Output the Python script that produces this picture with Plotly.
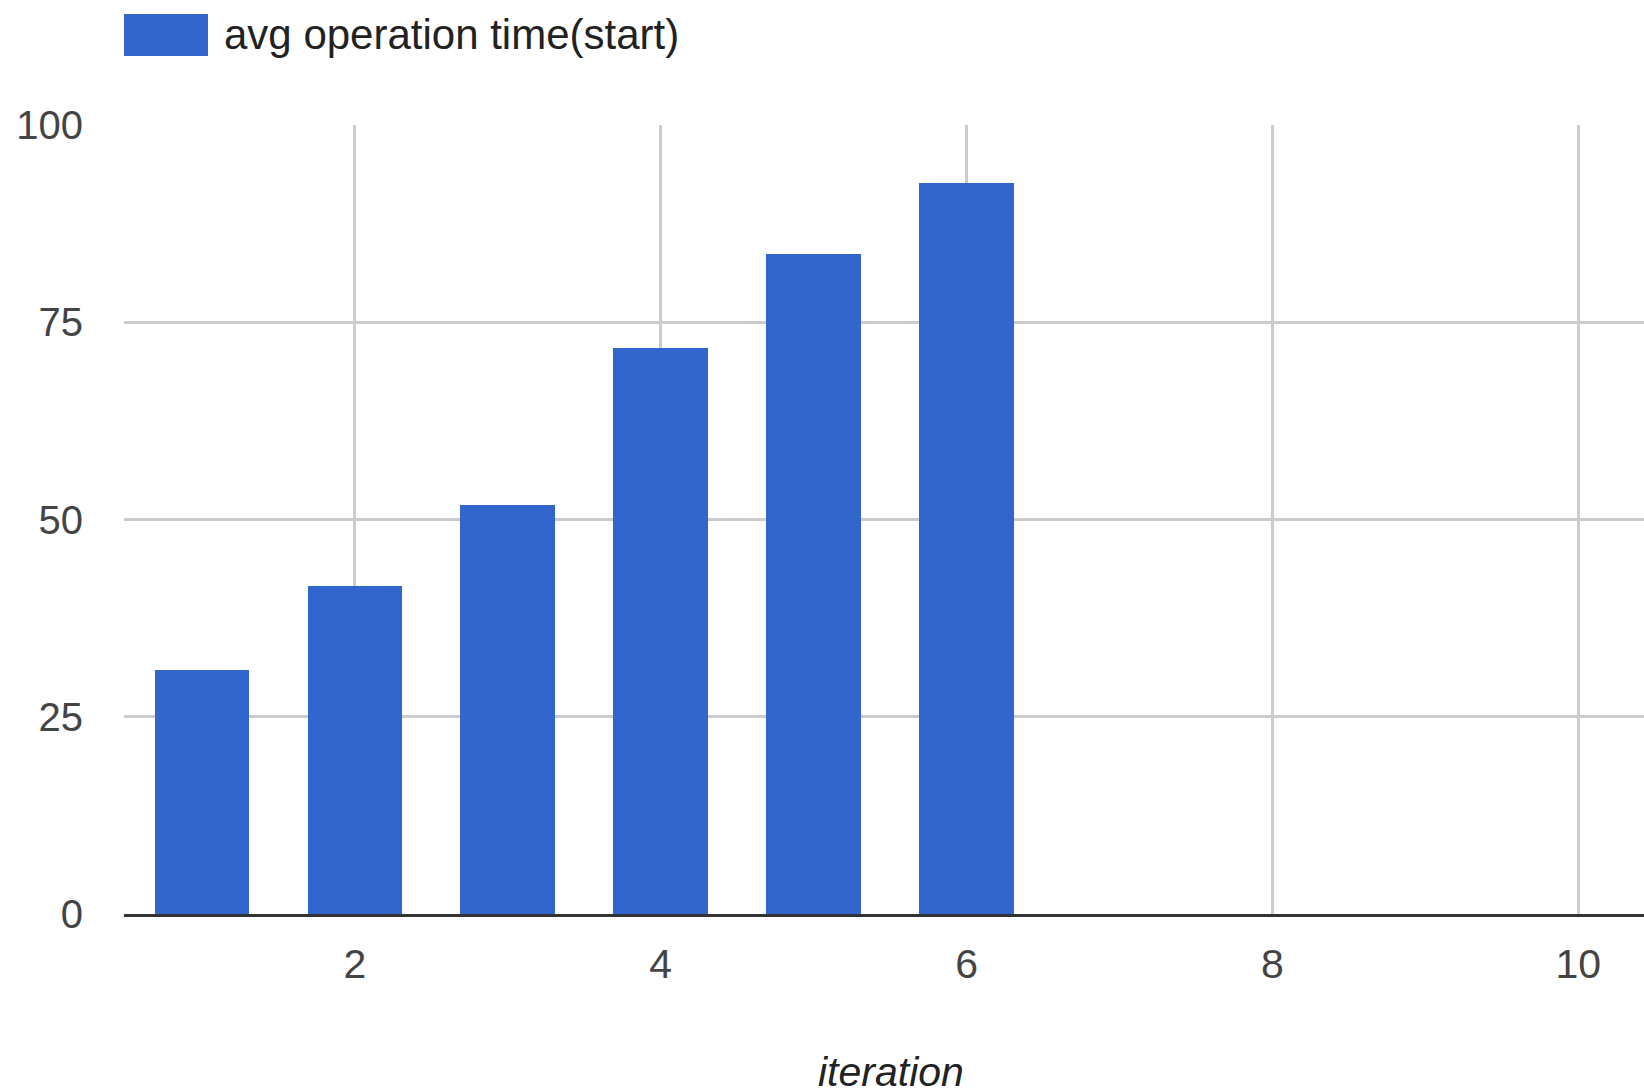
import plotly.graph_objects as go

# Average operation time per iteration
iterations = [1, 2, 3, 4, 5, 6]
avg_start_time = [30.9, 41.6, 51.8, 71.8, 83.7, 92.7]
series_name = "avg operation time(start)"
x_ticks = [2, 4, 6, 8, 10]
y_ticks = [0, 25, 50, 75, 100]

BAR_COLOR = "#3366cc"
GRID_COLOR = "#cccccc"
FONT = "Liberation Sans, Arial, sans-serif"

W, H = 1644, 1090
L, R, T, B = 124, 0, 125, 176
plot_w = W - L - R
plot_h = H - T - B


def px_to_paper_x(px):
    return (px - L) / plot_w


def px_to_paper_y(py):
    return (H - B - py) / plot_h


fig = go.Figure()
fig.add_trace(go.Bar(
    x=iterations,
    y=avg_start_time,
    name=series_name,
    width=0.62,
    marker=dict(color=BAR_COLOR, line=dict(width=0)),
    showlegend=False,
))

# Legend swatch and label
fig.add_shape(
    type="rect", xref="paper", yref="paper",
    x0=px_to_paper_x(124), x1=px_to_paper_x(208),
    y0=px_to_paper_y(56), y1=px_to_paper_y(14),
    fillcolor=BAR_COLOR, line=dict(width=0),
)
fig.add_annotation(
    xref="paper", yref="paper",
    x=px_to_paper_x(222), y=px_to_paper_y(35),
    xanchor="left", yanchor="middle",
    text=series_name, showarrow=False,
    font=dict(family=FONT, size=42, color="#222222"),
)

# X axis title
fig.add_annotation(
    xref="paper", yref="paper",
    x=px_to_paper_x(891), y=px_to_paper_y(1072),
    xanchor="center", yanchor="middle",
    text="<i>iteration</i>", showarrow=False,
    font=dict(family=FONT, size=41, color="#222222"),
)

fig.update_layout(
    width=W, height=H,
    margin=dict(l=L, r=R, t=T, b=B, pad=0),
    paper_bgcolor="white",
    plot_bgcolor="white",
    font=dict(family=FONT, size=40, color="#444444"),
    bargap=0,
)

fig.update_xaxes(
    range=[0.49, 10.43],
    tickmode="array", tickvals=x_ticks, ticktext=[str(v) for v in x_ticks],
    showgrid=True, gridcolor=GRID_COLOR, gridwidth=2.5,
    zeroline=False,
    showline=True, linecolor="#333333", linewidth=3,
    ticks="outside", ticklen=12, tickcolor="rgba(0,0,0,0)",
    tickfont=dict(family=FONT, size=41, color="#444444"),
)

fig.update_yaxes(
    range=[0, 100],
    tickmode="array", tickvals=y_ticks, ticktext=[str(v) for v in y_ticks],
    showgrid=True, gridcolor=GRID_COLOR, gridwidth=2.5,
    zeroline=False, showline=False,
    ticks="outside", ticklen=32, tickcolor="rgba(0,0,0,0)",
    tickfont=dict(family=FONT, size=40, color="#444444"),
)

fig.write_html("out.html")
